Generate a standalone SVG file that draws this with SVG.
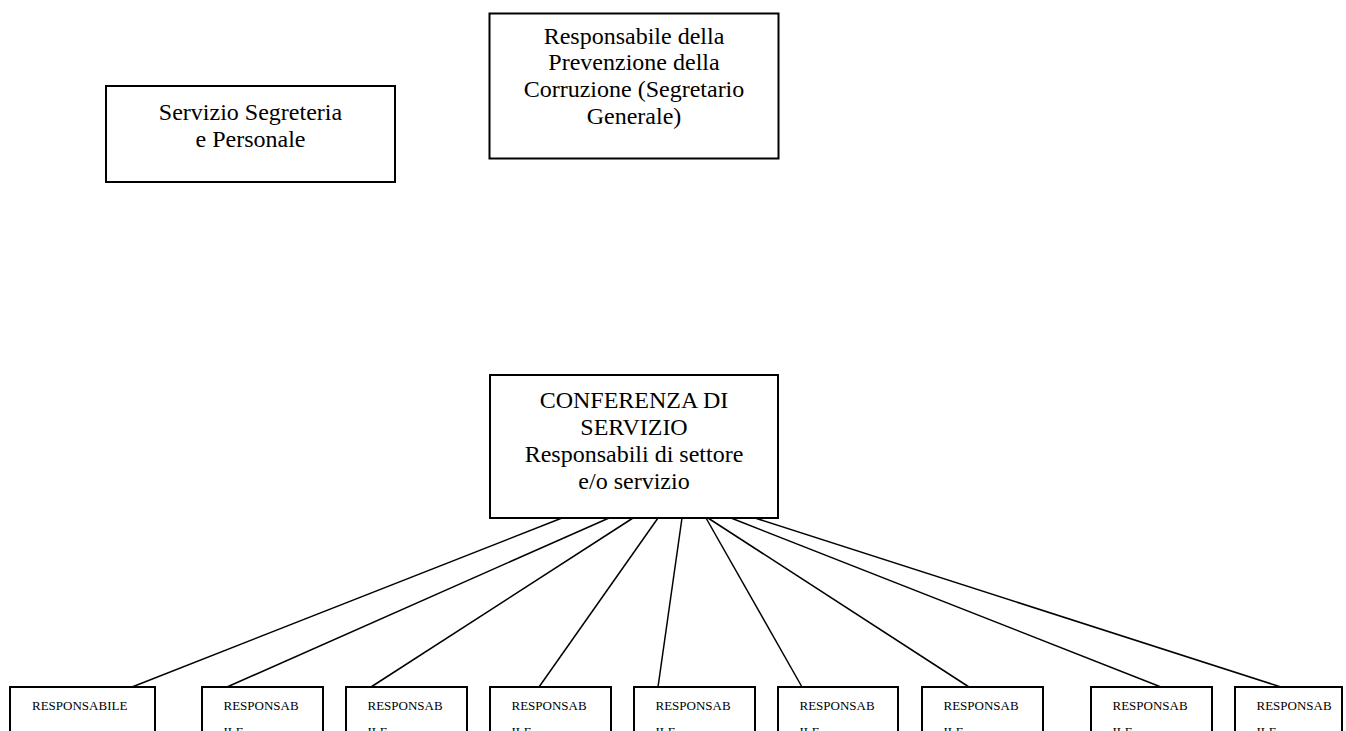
<svg xmlns="http://www.w3.org/2000/svg" width="1346" height="731" viewBox="0 0 1346 731">
<style>
.box{fill:#fff;stroke:#000;stroke-width:2}
.t{font-family:"Liberation Serif","Times New Roman",serif;font-size:24px;fill:#000;text-anchor:middle}
.s{font-family:"Liberation Serif","Times New Roman",serif;font-size:13px;fill:#000}
.ln{stroke:#000;stroke-width:1.5;fill:none}
</style>
<rect width="1346" height="731" fill="#fff"/>
<g id="connectors">
<line class="ln" x1="562" y1="518" x2="132" y2="687"/>
<line class="ln" x1="609" y1="518" x2="227" y2="687"/>
<line class="ln" x1="633" y1="518" x2="371" y2="687"/>
<line class="ln" x1="658" y1="518" x2="539" y2="687"/>
<line class="ln" x1="682" y1="518" x2="658" y2="687"/>
<line class="ln" x1="706" y1="518" x2="802" y2="687"/>
<line class="ln" x1="708" y1="518" x2="969" y2="687"/>
<line class="ln" x1="731" y1="518" x2="1161" y2="687"/>
<line class="ln" x1="755" y1="518" x2="1281" y2="687"/>
</g>
<g id="servizio">
<rect class="box" x="106" y="86" width="289" height="96"/>
<text class="t" x="250.5" y="120">Servizio Segreteria</text>
<text class="t" x="250.5" y="147">e Personale</text>
</g>
<g id="responsabile">
<rect class="box" x="489.5" y="13.5" width="289" height="145"/>
<text class="t" x="634" y="43.5">Responsabile della</text>
<text class="t" x="634" y="70.2">Prevenzione della</text>
<text class="t" x="634" y="96.9">Corruzione (Segretario</text>
<text class="t" x="634" y="123.6">Generale)</text>
</g>
<g id="conferenza">
<rect class="box" x="490" y="375" width="288" height="143"/>
<text class="t" x="634" y="408">CONFERENZA DI</text>
<text class="t" x="634" y="435">SERVIZIO</text>
<text class="t" x="634" y="462">Responsabili di settore</text>
<text class="t" x="634" y="489">e/o servizio</text>
</g>
<g id="resp1">
<rect class="box" x="10" y="687" width="145" height="100"/>
<text class="s" x="32" y="710">RESPONSABILE</text>
</g>
<g id="resp2">
<rect class="box" x="202" y="687" width="121" height="100"/>
<text class="s" x="223.5" y="710">RESPONSAB</text>
<text class="s" x="223.5" y="736">ILE</text>
</g>
<g id="resp3">
<rect class="box" x="346" y="687" width="121" height="100"/>
<text class="s" x="367.5" y="710">RESPONSAB</text>
<text class="s" x="367.5" y="736">ILE</text>
</g>
<g id="resp4">
<rect class="box" x="490" y="687" width="121" height="100"/>
<text class="s" x="511.5" y="710">RESPONSAB</text>
<text class="s" x="511.5" y="736">ILE</text>
</g>
<g id="resp5">
<rect class="box" x="634" y="687" width="121" height="100"/>
<text class="s" x="655.5" y="710">RESPONSAB</text>
<text class="s" x="655.5" y="736">ILE</text>
</g>
<g id="resp6">
<rect class="box" x="778" y="687" width="120" height="100"/>
<text class="s" x="799.5" y="710">RESPONSAB</text>
<text class="s" x="799.5" y="736">ILE</text>
</g>
<g id="resp7">
<rect class="box" x="922" y="687" width="121" height="100"/>
<text class="s" x="943.5" y="710">RESPONSAB</text>
<text class="s" x="943.5" y="736">ILE</text>
</g>
<g id="resp8">
<rect class="box" x="1091" y="687" width="121" height="100"/>
<text class="s" x="1112.5" y="710">RESPONSAB</text>
<text class="s" x="1112.5" y="736">ILE</text>
</g>
<g id="resp9">
<rect class="box" x="1235" y="687" width="107" height="100"/>
<text class="s" x="1256.5" y="710">RESPONSAB</text>
<text class="s" x="1256.5" y="736">ILE</text>
</g>
</svg>
